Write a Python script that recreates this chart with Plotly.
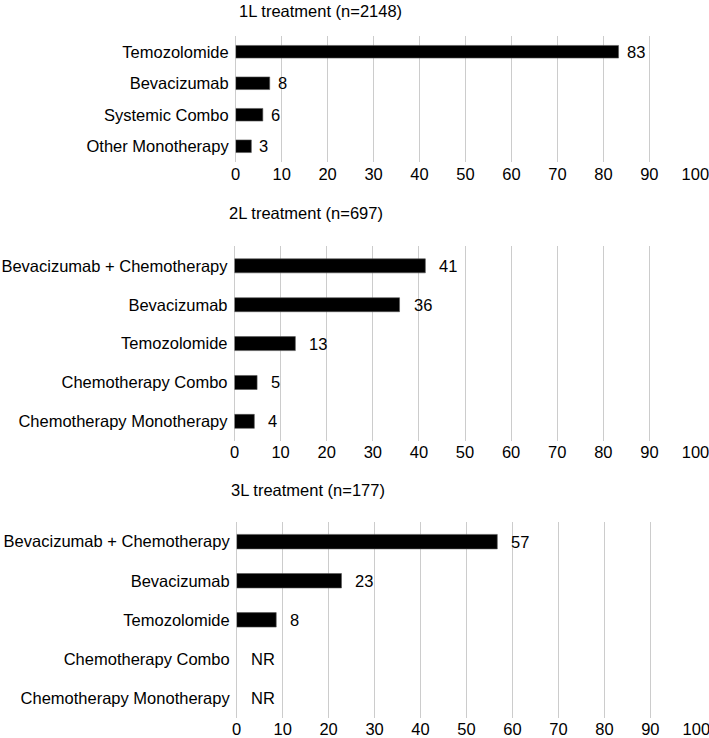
import plotly.graph_objects as go

# ---------------- data ----------------
panel_titles = ["1L treatment (n=2148)", "2L treatment (n=697)", "3L treatment (n=177)"]

cats_1l = ["Temozolomide", "Bevacizumab", "Systemic Combo", "Other Monotherapy"]
vals_1l = [83.3, 7.4, 5.9, 3.4]
labels_1l = ["83", "8", "6", "3"]

cats_2l = ["Bevacizumab + Chemotherapy", "Bevacizumab", "Temozolomide",
           "Chemotherapy Combo", "Chemotherapy Monotherapy"]
vals_2l = [41.4, 35.8, 13.2, 4.9, 4.3]
labels_2l = ["41", "36", "13", "5", "4"]

cats_3l = ["Bevacizumab + Chemotherapy", "Bevacizumab", "Temozolomide",
           "Chemotherapy Combo", "Chemotherapy Monotherapy"]
vals_3l = [56.7, 22.8, 8.6, None, None]
labels_3l = ["57", "23", "8", "NR", "NR"]

x_ticks = [0, 10, 20, 30, 40, 50, 60, 70, 80, 90, 100]

# ---------------- layout helpers ----------------
W, H = 709, 738
FONT = "Liberation Sans, Arial, Helvetica, sans-serif"
FS = 16.5

def px_x(p):
    return p / W

def px_y(p):
    return 1 - p / H

panels = [
    dict(cats=cats_1l, vals=vals_1l, labels=labels_1l, xdom=(235.7, 695.3), ydom=(36, 162),
         title_xy=(236.5, 11), width=0.4, gap=6),
    dict(cats=cats_2l, vals=vals_2l, labels=labels_2l, xdom=(234.5, 695.5), ydom=(246.4, 440.8),
         title_xy=(227, 213), width=0.36, gap=12),
    dict(cats=cats_3l, vals=vals_3l, labels=labels_3l, xdom=(236.7, 696.3), ydom=(522.1, 717.6),
         title_xy=(229, 490), width=0.37, gap=12),
]

fig = go.Figure()
annotations = []
layout = {}

for i, p in enumerate(panels, start=1):
    xa = "x" if i == 1 else f"x{i}"
    ya = "y" if i == 1 else f"y{i}"
    xkey = "xaxis" if i == 1 else f"xaxis{i}"
    ykey = "yaxis" if i == 1 else f"yaxis{i}"

    fig.add_trace(go.Bar(
        x=p["vals"], y=p["cats"], orientation="h",
        marker=dict(color="black", line=dict(color="#555555", width=0.6)),
        width=p["width"], xaxis=xa, yaxis=ya, showlegend=False,
        hoverinfo="x+y",
    ))

    # small extension so the 100 gridline is drawn inside the plot area
    dom_px = p["xdom"][1] - p["xdom"][0]
    ext = 100 * 0.6 / dom_px
    layout[xkey] = dict(
        domain=[px_x(p["xdom"][0]), px_x(p["xdom"][1] + 0.6)],
        anchor=ya, range=[0, 100 + ext], tickmode="array", tickvals=x_ticks,
        ticktext=[str(t) for t in x_ticks],
        showgrid=True, gridcolor="#cccccc", gridwidth=1,
        zeroline=True, zerolinecolor="#cccccc", zerolinewidth=1,
        showline=False, ticks="", automargin=False, ticklabeloverflow="allow",
        tickfont=dict(size=FS, color="black", family=FONT),
        fixedrange=True,
    )
    layout[ykey] = dict(
        domain=[px_y(p["ydom"][1]), px_y(p["ydom"][0])],
        anchor=xa, type="category", categoryorder="array",
        categoryarray=list(reversed(p["cats"])),
        showgrid=False, zeroline=False, showline=False, ticks="",
        ticklabelstandoff=6, automargin=False, ticklabeloverflow="allow",
        tickfont=dict(size=FS, color="black", family=FONT), fixedrange=True,
    )

    # value labels
    for c, v, lab in zip(p["cats"], p["vals"], p["labels"]):
        annotations.append(dict(
            x=v if v is not None else 0, y=c, xref=xa, yref=ya,
            text=lab, showarrow=False, xanchor="left", yanchor="middle",
            xshift=p["gap"], font=dict(size=FS, color="black", family=FONT),
        ))

    # panel title
    tx, ty = p["title_xy"]
    annotations.append(dict(
        x=px_x(tx), y=px_y(ty), xref="paper", yref="paper",
        text=panel_titles[i - 1], showarrow=False, xanchor="left", yanchor="middle",
        font=dict(size=FS, color="black", family=FONT),
    ))

fig.update_layout(
    width=W, height=H,
    margin=dict(l=0, r=0, t=0, b=0, autoexpand=False),
    paper_bgcolor="white", plot_bgcolor="white",
    font=dict(family=FONT, size=FS, color="black"),
    annotations=annotations,
    bargap=0.6,
    **layout,
)

fig.write_html(
    "out.html",
    config={"displayModeBar": False},
    post_script="document.body.style.margin='0';document.body.style.padding='0';",
)
